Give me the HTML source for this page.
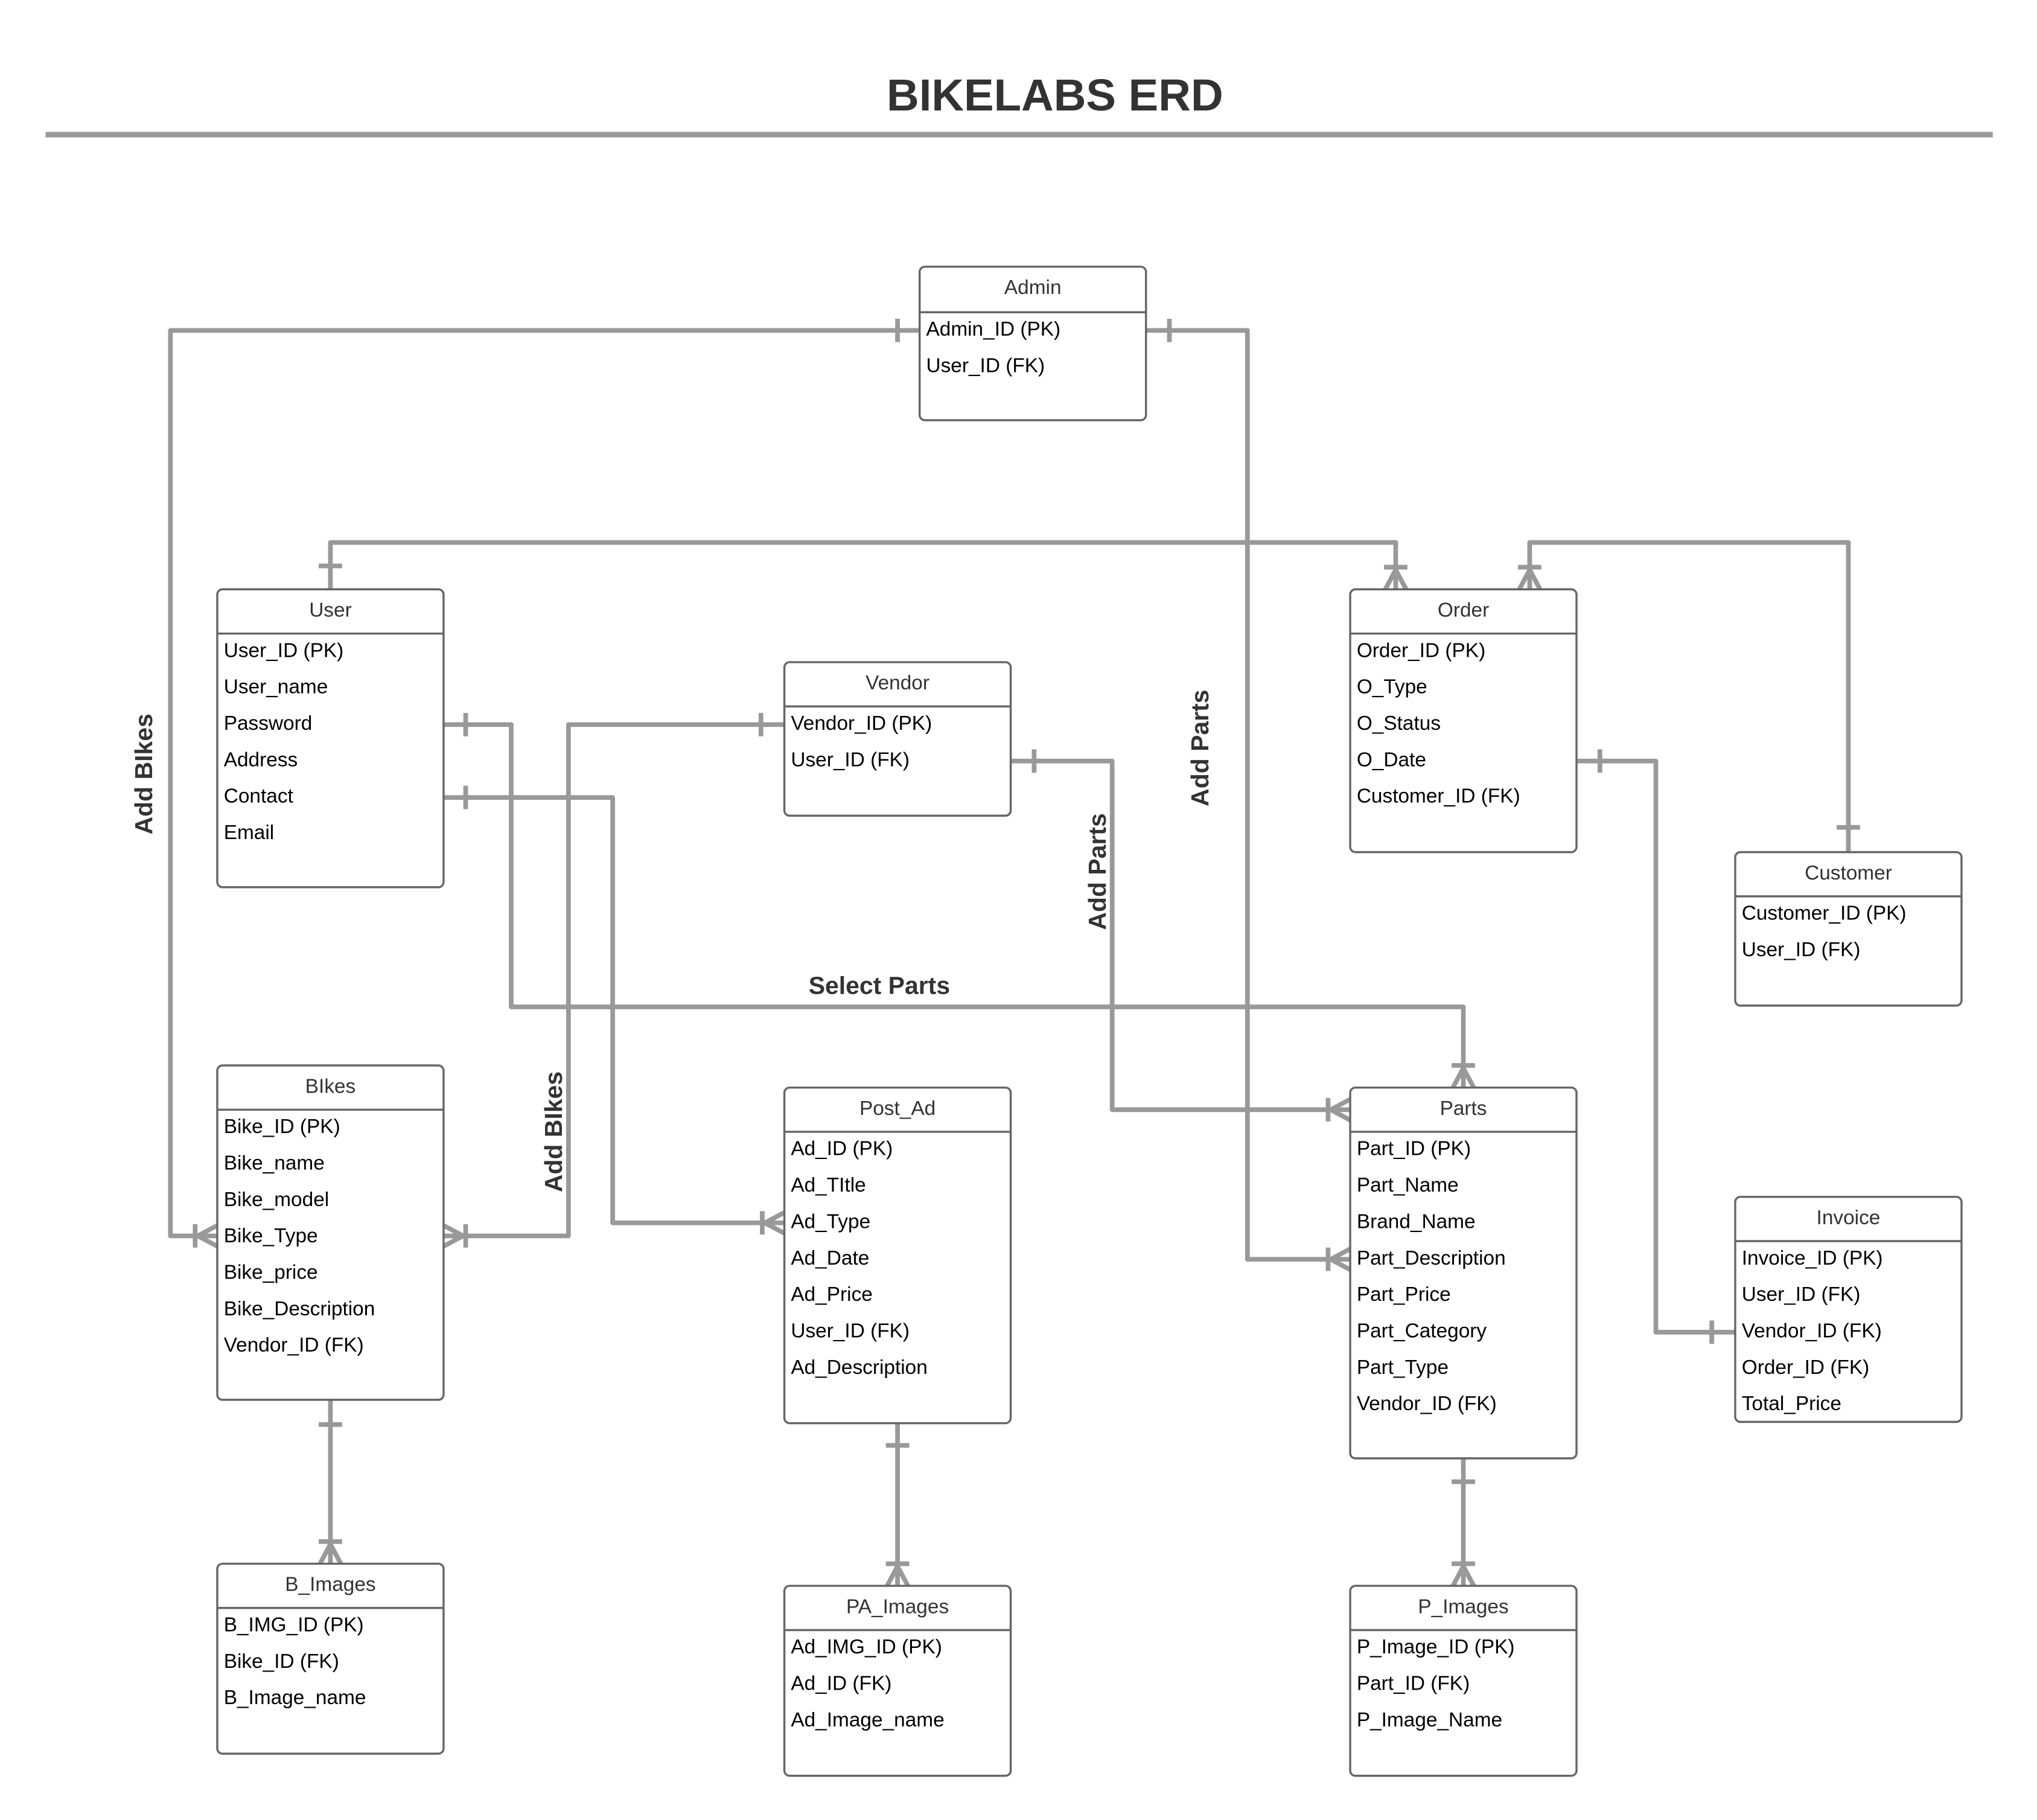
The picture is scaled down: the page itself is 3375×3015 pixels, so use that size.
<!DOCTYPE html>
<html><head><meta charset="utf-8"><style>
html,body{margin:0;padding:0;background:#fff;}
svg{display:block;}
.b{fill:#fff;stroke:#666;stroke-width:1.6;}
.h{stroke:#666;stroke-width:1.6;}
.c{fill:none;stroke:#999;stroke-width:3.6;stroke-linejoin:round;stroke-linecap:butt;}
.t{font-family:"Liberation Sans",sans-serif;font-size:15.5px;fill:#000;}
.hd{font-family:"Liberation Sans",sans-serif;font-size:15.5px;fill:#333;text-anchor:middle;}
.lb{font-family:"Liberation Sans",sans-serif;font-size:19px;font-weight:bold;fill:#333;text-anchor:middle;}
</style></head><body>
<svg width="3375" height="3015" viewBox="0 0 1566 1399" xmlns="http://www.w3.org/2000/svg">
<text x="811" y="85" font-family="Liberation Sans,sans-serif" font-size="34.5" font-weight="bold" fill="#333" text-anchor="middle">BIKELABS ERD</text>
<line x1="35" y1="103.5" x2="1532" y2="103.5" stroke="#999" stroke-width="4.2"/>

<g class="c">
<path d="M707 254 H131 V950 H167"/>
<path d="M881 254 H959 V968 H1038"/>
<path d="M254 453 V417 H1073 V453"/>
<path d="M1421 655 V417 H1176 V453"/>
<path d="M341 557 H393 V774 H1125 V836"/>
<path d="M341 613 H471 V940 H603"/>
<path d="M603 557 H437 V950 H341"/>
<path d="M777 585 H855 V853 H1038"/>
<path d="M1212 585 H1273 V1024 H1334"/>
<path d="M254 1076 V1202"/>
<path d="M690 1094 V1219"/>
<path d="M1125 1121 V1219"/>
<path d="M690 245 V263 M899 245 V263 M245 435 H263 M1412 636 H1430 M358 548 V566 M358 604 V622 M585 548 V566 M795 576 V594 M1230 576 V594 M1316 1015 V1033 M245 1095 H263 M681 1111 H699 M1116 1139 H1134"/>
<path d="M167 942 L152 950 L167 958 M150 941 V959"/>
<path d="M341 942 L356 950 L341 958 M358 941 V959"/>
<path d="M1038 960 L1023 968 L1038 976 M1021 959 V977"/>
<path d="M1038 845 L1023 853 L1038 861 M1021 844 V862"/>
<path d="M603 932 L588 940 L603 948 M586 931 V949"/>
<path d="M1065 453 L1073 438 L1081 453 M1064 436 H1082"/>
<path d="M1168 453 L1176 438 L1184 453 M1167 436 H1185"/>
<path d="M1117 836 L1125 821 L1133 836 M1116 819 H1134"/>
<path d="M246 1202 L254 1187 L262 1202 M245 1185 H263"/>
<path d="M682 1219 L690 1204 L698 1219 M681 1202 H699"/>
<path d="M1117 1219 L1125 1204 L1133 1219 M1116 1202 H1134"/>
</g>

<text class="lb" x="676" y="764">Select Parts</text>
<text class="lb" transform="translate(117,595) rotate(-90)">Add BIkes</text>
<text class="lb" transform="translate(432,870) rotate(-90)">Add BIkes</text>
<text class="lb" transform="translate(850,670) rotate(-90)">Add Parts</text>
<text class="lb" transform="translate(929,575) rotate(-90)">Add Parts</text>

<rect class="b" x="707" y="205" width="174" height="118" rx="4"/>
<line class="h" x1="707" y1="240" x2="881" y2="240"/>
<text class="hd" x="794" y="226">Admin</text>
<text class="t" x="712" y="258">Admin_ID (PK)</text>
<text class="t" x="712" y="286">User_ID (FK)</text>

<rect class="b" x="167" y="453" width="174" height="229" rx="4"/>
<line class="h" x1="167" y1="487" x2="341" y2="487"/>
<text class="hd" x="254" y="474">User</text>
<text class="t" x="172" y="505">User_ID (PK)</text>
<text class="t" x="172" y="533">User_name</text>
<text class="t" x="172" y="561">Password</text>
<text class="t" x="172" y="589">Address</text>
<text class="t" x="172" y="617">Contact</text>
<text class="t" x="172" y="645">Email</text>

<rect class="b" x="603" y="509" width="174" height="118" rx="4"/>
<line class="h" x1="603" y1="543" x2="777" y2="543"/>
<text class="hd" x="690" y="530">Vendor</text>
<text class="t" x="608" y="561">Vendor_ID (PK)</text>
<text class="t" x="608" y="589">User_ID (FK)</text>

<rect class="b" x="1038" y="453" width="174" height="202" rx="4"/>
<line class="h" x1="1038" y1="487" x2="1212" y2="487"/>
<text class="hd" x="1125" y="474">Order</text>
<text class="t" x="1043" y="505">Order_ID (PK)</text>
<text class="t" x="1043" y="533">O_Type</text>
<text class="t" x="1043" y="561">O_Status</text>
<text class="t" x="1043" y="589">O_Date</text>
<text class="t" x="1043" y="617">Customer_ID (FK)</text>

<rect class="b" x="1334" y="655" width="174" height="118" rx="4"/>
<line class="h" x1="1334" y1="689" x2="1508" y2="689"/>
<text class="hd" x="1421" y="676">Customer</text>
<text class="t" x="1339" y="707">Customer_ID (PK)</text>
<text class="t" x="1339" y="735">User_ID (FK)</text>

<rect class="b" x="167" y="819" width="174" height="257" rx="4"/>
<line class="h" x1="167" y1="853" x2="341" y2="853"/>
<text class="hd" x="254" y="840">BIkes</text>
<text class="t" x="172" y="871">Bike_ID (PK)</text>
<text class="t" x="172" y="899">Bike_name</text>
<text class="t" x="172" y="927">Bike_model</text>
<text class="t" x="172" y="955">Bike_Type</text>
<text class="t" x="172" y="983">Bike_price</text>
<text class="t" x="172" y="1011">Bike_Description</text>
<text class="t" x="172" y="1039">Vendor_ID (FK)</text>

<rect class="b" x="603" y="836" width="174" height="258" rx="4"/>
<line class="h" x1="603" y1="870" x2="777" y2="870"/>
<text class="hd" x="690" y="857">Post_Ad</text>
<text class="t" x="608" y="888">Ad_ID (PK)</text>
<text class="t" x="608" y="916">Ad_TItle</text>
<text class="t" x="608" y="944">Ad_Type</text>
<text class="t" x="608" y="972">Ad_Date</text>
<text class="t" x="608" y="1000">Ad_Price</text>
<text class="t" x="608" y="1028">User_ID (FK)</text>
<text class="t" x="608" y="1056">Ad_Description</text>

<rect class="b" x="1038" y="836" width="174" height="285" rx="4"/>
<line class="h" x1="1038" y1="870" x2="1212" y2="870"/>
<text class="hd" x="1125" y="857">Parts</text>
<text class="t" x="1043" y="888">Part_ID (PK)</text>
<text class="t" x="1043" y="916">Part_Name</text>
<text class="t" x="1043" y="944">Brand_Name</text>
<text class="t" x="1043" y="972">Part_Description</text>
<text class="t" x="1043" y="1000">Part_Price</text>
<text class="t" x="1043" y="1028">Part_Category</text>
<text class="t" x="1043" y="1056">Part_Type</text>
<text class="t" x="1043" y="1084">Vendor_ID (FK)</text>

<rect class="b" x="1334" y="920" width="174" height="173" rx="4"/>
<line class="h" x1="1334" y1="954" x2="1508" y2="954"/>
<text class="hd" x="1421" y="941">Invoice</text>
<text class="t" x="1339" y="972">Invoice_ID (PK)</text>
<text class="t" x="1339" y="1000">User_ID (FK)</text>
<text class="t" x="1339" y="1028">Vendor_ID (FK)</text>
<text class="t" x="1339" y="1056">Order_ID (FK)</text>
<text class="t" x="1339" y="1084">Total_Price</text>

<rect class="b" x="167" y="1202" width="174" height="146" rx="4"/>
<line class="h" x1="167" y1="1236" x2="341" y2="1236"/>
<text class="hd" x="254" y="1223">B_Images</text>
<text class="t" x="172" y="1254">B_IMG_ID (PK)</text>
<text class="t" x="172" y="1282">Bike_ID (FK)</text>
<text class="t" x="172" y="1310">B_Image_name</text>

<rect class="b" x="603" y="1219" width="174" height="146" rx="4"/>
<line class="h" x1="603" y1="1253" x2="777" y2="1253"/>
<text class="hd" x="690" y="1240">PA_Images</text>
<text class="t" x="608" y="1271">Ad_IMG_ID (PK)</text>
<text class="t" x="608" y="1299">Ad_ID (FK)</text>
<text class="t" x="608" y="1327">Ad_Image_name</text>

<rect class="b" x="1038" y="1219" width="174" height="146" rx="4"/>
<line class="h" x1="1038" y1="1253" x2="1212" y2="1253"/>
<text class="hd" x="1125" y="1240">P_Images</text>
<text class="t" x="1043" y="1271">P_Image_ID (PK)</text>
<text class="t" x="1043" y="1299">Part_ID (FK)</text>
<text class="t" x="1043" y="1327">P_Image_Name</text>
</svg>
</body></html>
